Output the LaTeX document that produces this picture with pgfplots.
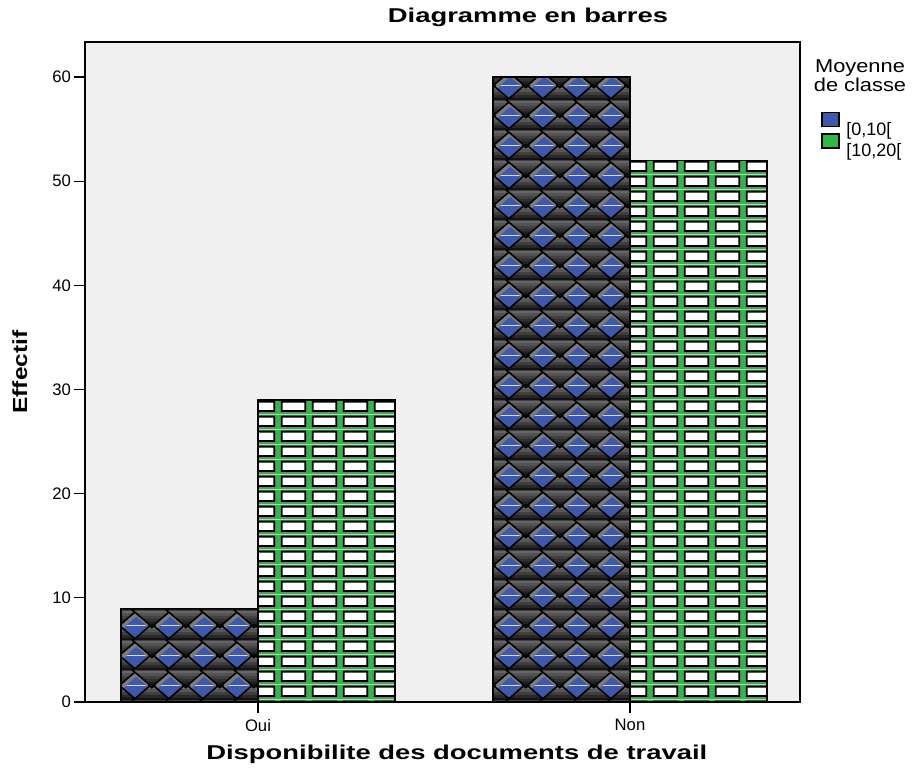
\documentclass[border=0pt]{standalone}
\usepackage{fontspec}
\setmainfont{Liberation Sans}
\newfontfamily\widebold{Liberation Sans}[FakeStretch=1.37]
\newfontfamily\wideyl{Liberation Sans}[FakeStretch=1.2]
\newfontfamily\legtitle{Liberation Sans}[FakeStretch=1.17]
\usepackage{pgfplots}
\pgfplotsset{compat=1.18}
\usetikzlibrary{patterns}

\definecolor{spssblue}{HTML}{3E58AC}
\definecolor{spssgreen}{HTML}{2EB848}
\definecolor{plotbg}{HTML}{F0F0F0}
\definecolor{shadowgray}{HTML}{7C7C7C}

% diamond of the texture cell (25.36pt x 22.5pt), slightly larger than the cell
\newcommand\dmdpath[2]{%
  \pgfpathmoveto{\pgfpoint{#1-1.6pt}{#2+11.25pt}}%
  \pgfpathlineto{\pgfpoint{#1+12.68pt}{#2+23.9pt}}%
  \pgfpathlineto{\pgfpoint{#1+26.96pt}{#2+11.25pt}}%
  \pgfpathlineto{\pgfpoint{#1+12.68pt}{#2-1.4pt}}%
  \pgfpathclose}
% shaded diamond: each half goes from grey at its top to black at its bottom
\newcommand\dmdfull[2]{%
  \begin{pgfscope}
    \dmdpath{#1}{#2}\pgfusepath{clip}%
    \pgfsetfillcolor{black!75}%
    \pgfpathrectangle{\pgfpoint{#1-2pt}{#2-2pt}}{\pgfpoint{29.4pt}{26.5pt}}%
    \pgfusepath{fill}%
    \foreach \kk in {0,...,5}{%
      \pgfmathtruncatemacro\ga{48+9*\kk}%
      \pgfsetfillcolor{black!\ga}%
      \pgfpathrectangle{\pgfpoint{#1-2pt}{#2+24pt-\kk*2.1pt-2.15pt}}{\pgfpoint{29.4pt}{2.15pt}}%
      \pgfusepath{fill}%
      \pgfmathtruncatemacro\gb{60+7*\kk}%
      \pgfsetfillcolor{black!\gb}%
      \pgfpathrectangle{\pgfpoint{#1-2pt}{#2+11.25pt-\kk*2.1pt-2.15pt}}{\pgfpoint{29.4pt}{2.15pt}}%
      \pgfusepath{fill}%
    }%
  \end{pgfscope}%
  \pgfsetstrokecolor{black}\pgfsetlinewidth{1.2pt}\pgfsetmiterjoin
  \dmdpath{#1}{#2}\pgfusepath{stroke}%
}
\newcommand\dmdshadow[2]{%
  \pgfsetfillcolor{shadowgray}%
  \dmdpath{#1+1pt}{#2-3.4pt}\pgfusepath{fill}%
}

% [0,10[ filling: blue ground with shaded diamonds
\pgfdeclarepatterninherentlycolored{diamondgrid}
  {\pgfpoint{0pt}{0pt}}{\pgfpoint{25.36pt}{22.5pt}}{\pgfpoint{25.36pt}{22.5pt}}
{%
  \pgfsetfillcolor{spssblue}%
  \pgfpathrectangle{\pgfpoint{0pt}{0pt}}{\pgfpoint{25.36pt}{22.5pt}}%
  \pgfusepath{fill}%
  \foreach \ii in {-25.36pt,0pt,25.36pt}{%
    \foreach \jj in {-22.5pt,0pt,22.5pt}{\dmdshadow{\ii}{\jj}}}%
  \foreach \ii in {-25.36pt,0pt,25.36pt}{%
    \foreach \jj in {-22.5pt,0pt,22.5pt}{\dmdfull{\ii}{\jj}}}%
}

% [10,20[ filling: green ground with white boxes
\pgfdeclarepatterninherentlycolored{greenrects}
  {\pgfpoint{0pt}{0pt}}{\pgfpoint{23.25pt}{11.4pt}}{\pgfpoint{23.25pt}{11.4pt}}
{%
  \pgfsetfillcolor{spssgreen}%
  \pgfpathrectangle{\pgfpoint{0pt}{0pt}}{\pgfpoint{23.25pt}{11.4pt}}%
  \pgfusepath{fill}%
  \pgfsetfillcolor{shadowgray}%
  \pgfpathrectangle{\pgfpoint{2.3pt}{0.9pt}}{\pgfpoint{19.5pt}{8.75pt}}%
  \pgfusepath{fill}%
  \pgfsetfillcolor{white}\pgfsetstrokecolor{black}\pgfsetlinewidth{1.4pt}%
  \pgfpathrectangle{\pgfpoint{2.15pt}{2.4pt}}{\pgfpoint{18.1pt}{7.35pt}}%
  \pgfusepath{fill,stroke}%
}

\begin{document}
\begin{tikzpicture}
\useasboundingbox (-63.75pt,-54pt) rectangle (620.25pt,526.5pt);
\begin{axis}[
  at={(0pt,0pt)}, anchor=south west,
  width=536.25pt, height=495pt, scale only axis,
  clip=false,
  xmin=-0.465, xmax=1.457, ymin=0, ymax=63.36,
  axis background/.style={fill=plotbg},
  axis line style={line width=1.1pt, black},
  xtick={0,1}, xticklabels={Oui,Non},
  ytick={0,10,...,60},
  xtick pos=left, ytick pos=left,
  tick align=outside,
  major tick length=8pt,
  tick style={black, line width=0.9pt},
  /pgf/number format/assume math mode=true,
  tick label style={font=\fontsize{12.5}{14}\selectfont},
  yticklabel style={inner sep=0.8pt, xshift=-1.5pt},
  xticklabel style={inner sep=0pt, yshift=-4.5pt},
  title={Diagramme en barres},
  title style={at={(0.6196,1.0167)}, anchor=base, inner sep=0pt,
    font=\widebold\bfseries\fontsize{15}{18}\selectfont},
  xlabel={Disponibilite des documents de travail},
  xlabel style={at={(0.52,-0.0869)}, anchor=base, inner sep=0pt,
    font=\widebold\bfseries\fontsize{15}{18}\selectfont},
  ylabel={Effectif},
  ylabel style={at={(-0.0811,0.5)}, anchor=base, inner sep=0pt,
    font=\wideyl\bfseries\fontsize{15.3}{18}\selectfont},
  legend style={at={(1.0294,0.8944)}, anchor=north west, draw=none, fill=none,
    inner sep=0pt, row sep=-2.9pt, nodes={inner sep=0pt},
    font=\fontsize{13.5}{15}\selectfont},
  legend cell align=left,
]
% [0,10[ series
\addplot[ybar, bar width=0.368, bar shift=-0.184, pattern=diamondgrid,
  draw=black, line width=1.1pt, forget plot]
  coordinates {(0,9) (1,60)};
% [10,20[ series
\addplot[ybar, bar width=0.368, bar shift=0.184, pattern=greenrects,
  draw=black, line width=1.1pt, forget plot]
  coordinates {(0,29) (1,52)};

\addlegendimage{legend image code/.code={%
  \path[draw=none, fill=none] (0pt,0pt) -- (18.4pt,0pt);
  \draw[fill=spssblue, draw=black, line width=0.9pt] (0pt,2.45pt) rectangle (12.75pt,12.95pt);}}
\addlegendentry{{[0,10[}}
\addlegendimage{legend image code/.code={%
  \path[draw=none, fill=none] (0pt,0pt) -- (18.4pt,0pt);
  \draw[fill=spssgreen, draw=black, line width=0.9pt] (0pt,2.45pt) rectangle (12.75pt,12.95pt);}}
\addlegendentry{{[10,20[}}

\node[anchor=north, inner sep=0pt, align=center,
  font=\legtitle\fontsize{14}{12}\selectfont]
  at (axis description cs:1.0839,0.9729) {Moyenne\\de classe};
\end{axis}
\end{tikzpicture}
\end{document}
